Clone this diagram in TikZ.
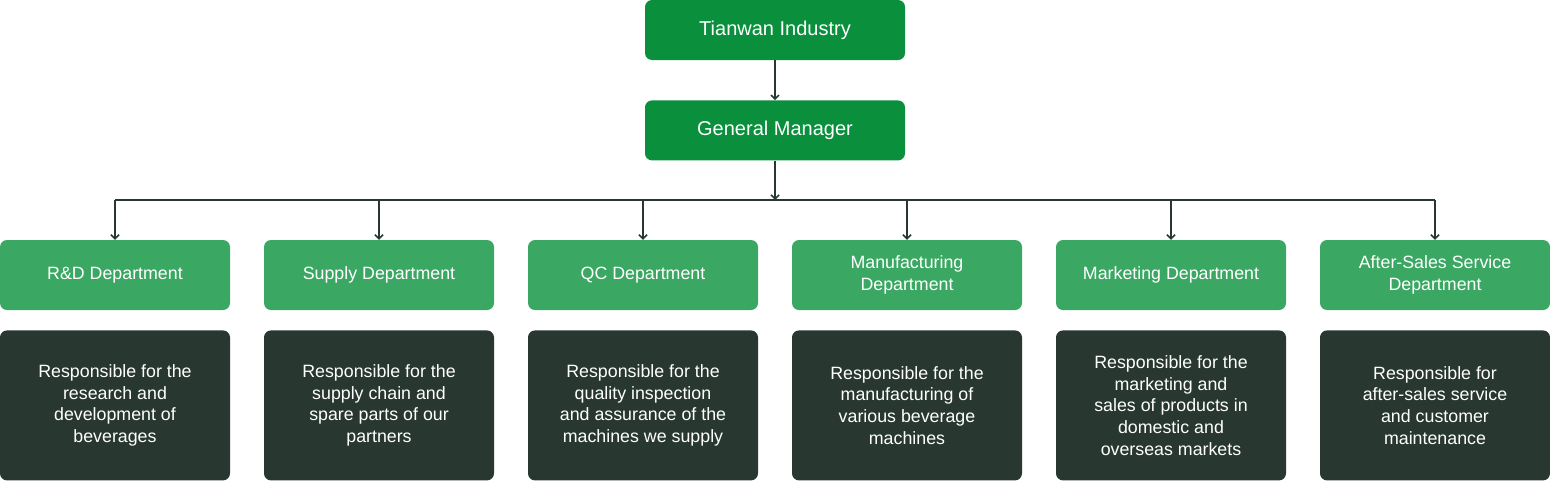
\documentclass[tikz,border=0pt]{standalone}
\usepackage{fontspec}
\setmainfont{Liberation Sans}
\usetikzlibrary{positioning}
\usetikzlibrary{arrows.meta}
\definecolor{topgreen}{HTML}{0A8F3C}
\definecolor{deptgreen}{HTML}{3AA862}
\definecolor{darkbox}{HTML}{283830}

\begin{document}
\begin{tikzpicture}[x=1pt,y=-1pt,
  head/.style={rectangle,rounded corners=7pt,fill=topgreen,text=white,minimum width=260pt,minimum height=60pt,font=\fontsize{20}{23}\selectfont},
  dept/.style={rectangle,rounded corners=7pt,fill=deptgreen,text=white,minimum width=230pt,minimum height=70pt,align=center,font=\fontsize{17.8}{22}\selectfont},
  duty/.style={rectangle,rounded corners=7pt,fill=darkbox,text=white,minimum width=230pt,minimum height=150pt,align=center,font=\fontsize{17.8}{21.7}\selectfont},
  link/.style={draw=darkbox,line width=1.6pt,-{Straight Barb[length=4pt,width=8pt]}}]

  \useasboundingbox (0,0) rectangle (1550,480);

  % Leitung
  \node[head] (TI) at (775,30) {Tianwan Industry};
  \node[head] (GM) [below=40pt of TI] {General Manager};

  % Abteilungen
  \node[dept] (RD) at (115,275)  {R\&D Department};
  \node[dept] (SD) at (379,275)  {Supply Department};
  \node[dept] (QC) at (643,275)  {QC Department};
  \node[dept] (MD) at (907,275)  {Manufacturing\\Department};
  \node[dept] (MK) at (1171,275) {Marketing Department};
  \node[dept] (AS) at (1435,275) {After-Sales Service\\Department};

  % Aufgaben
  \node[duty] (RDt) [below=20pt of RD] {Responsible for the\\research and\\development of\\beverages};
  \node[duty] (SDt) [below=20pt of SD] {Responsible for the\\supply chain and\\spare parts of our\\partners};
  \node[duty] (QCt) [below=20pt of QC] {Responsible for the\\quality inspection\\and assurance of the\\machines we supply};
  \node[duty] (MDt) [below=20pt of MD] {Responsible for the\\manufacturing of\\various beverage\\machines};
  \node[duty] (MKt) [below=20pt of MK] {Responsible for the\\marketing and\\sales of products in\\domestic and\\overseas markets};
  \node[duty] (ASt) [below=20pt of AS] {Responsible for\\after-sales service\\and customer\\maintenance};

  \coordinate (bus) at (775,200);

  \path (TI) edge[link] (GM)
        (GM) edge[link] (bus);
  \draw[draw=darkbox,line width=1.6pt] (RD |- bus) -- (AS |- bus);
  \path (RD |- bus) edge[link] (RD)
        (SD |- bus) edge[link] (SD)
        (QC |- bus) edge[link] (QC)
        (MD |- bus) edge[link] (MD)
        (MK |- bus) edge[link] (MK)
        (AS |- bus) edge[link] (AS);

\end{tikzpicture}
\end{document}
